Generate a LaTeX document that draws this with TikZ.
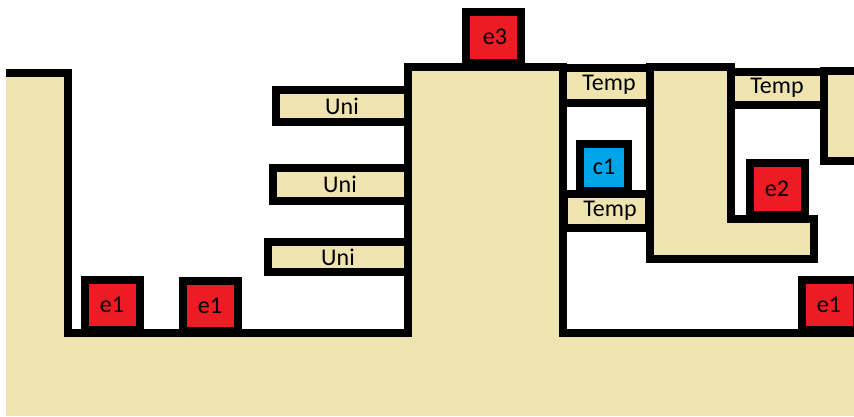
\documentclass[tikz,border=0pt]{standalone}
\usepackage{fontspec}
\setmainfont{Carlito}
\definecolor{sand}{RGB}{239,228,176}
\definecolor{enemyred}{RGB}{237,28,36}
\definecolor{coinblue}{RGB}{0,162,232}

\begin{document}
\begin{tikzpicture}[x=1pt,y=-1pt,line width=8pt,
ledge/.style={draw,fill=sand,inner sep=0pt,font=\fontsize{24}{26}\selectfont},
enemy/.style={ledge,fill=enemyred,minimum width=55pt,minimum height=50pt},
coin/.style={enemy,fill=coinblue,minimum width=48pt,minimum height=47pt}]
 \useasboundingbox (0,0) rectangle (854,416);
 % ground, left block and the tower
 \fill[sand] (6,73) -- (68,73) -- (68,333) -- (408,333) -- (408,67) -- (563,67)
 -- (563,333) -- (854,333) -- (854,416) -- (6,416) -- cycle;
 \draw (6,73) -- (68,73) -- (68,333) -- (408,333) -- (408,67) -- (563,67)
 -- (563,333) -- (860,333);
 % hanging L block and the block on the right
 \filldraw[fill=sand] (650,67) -- (731,67) -- (731,219) -- (814,219) -- (814,259)
 -- (650,259) -- cycle;
 \fill[sand] (824,71) rectangle (860,161);
 \draw (860,71) -- (824,71) -- (824,161) -- (860,161);
 % platforms
 \node[ledge,minimum width=132pt,minimum height=32pt] (U1) at (342,106) {Uni};
 \node[ledge,minimum width=135pt,minimum height=33pt] (U2) at (340,184) {Uni};
 \node[ledge,minimum width=140pt,minimum height=30pt] (U3) at (338,257) {Uni};
 \node[ledge,minimum width=87pt,minimum height=35pt] (T1) at (606,85) {\hspace{6pt}Temp};
 \node[ledge,minimum width=93pt,minimum height=33pt] (T2) at (777,88) {Temp};
 \node[ledge,minimum width=85pt,minimum height=34pt] (T3) at (606,211) {\hspace{8pt}Temp};
 % enemies and the coin
 \foreach \X/\Y [count=\i] in {112/305,210/306,829/305}
 {\node[enemy] (e1\i) at (\X,\Y) {e1};}
 \node[enemy,minimum height=52pt] (e2) at (777,189) {e2};
 \node[enemy,minimum height=51pt] (e3) at (493,37) {\raisebox{-6pt}{\hspace{4pt}e3}};
 \node[coin] (c1) at (604,167) {c1};
\end{tikzpicture}
\end{document}
